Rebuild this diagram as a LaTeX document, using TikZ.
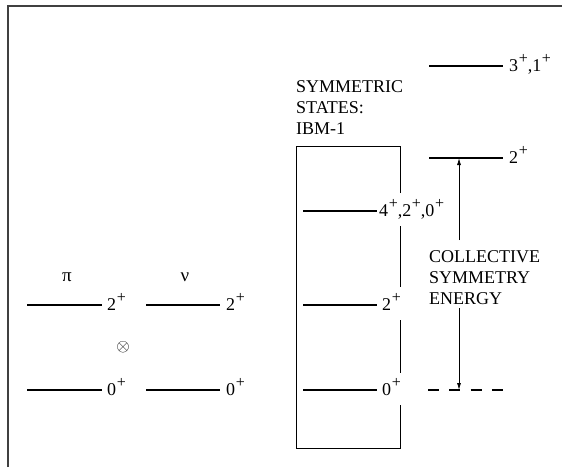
\documentclass[tikz,border=0pt]{standalone}
\usepackage{fontspec}
\setmainfont{Liberation Serif}
\usetikzlibrary{arrows.meta}
\newcommand\spl{\hspace{0.6pt}\raisebox{8pt}{\fontsize{16}{16}\selectfont +}}
\begin{document}
\begin{tikzpicture}[x=1pt,y=-1pt,
  lvl/.style={line width=1.9pt},
  thin lvl/.style={line width=1.2pt},
  lbl/.style={anchor=base west,inner sep=0pt,font=\fontsize{18}{21}\selectfont},
  txt/.style={anchor=base west,inner sep=0pt,align=left,font=\fontsize{18}{21}\selectfont},
  sym/.style={inner sep=0pt,font=\fontsize{19}{21}\selectfont},
  frame/.style={line width=1.4pt,draw=black!75},
  boxl/.style={line width=0.9pt},
  arr/.style={line width=0.8pt,-{Latex[length=7pt,width=4pt]}},
  dashlvl/.style={line width=1.9pt,dash pattern=on 11pt off 10.3pt}]
\useasboundingbox (0,0) rectangle (562,467);
% outer frame
\draw[frame] (8,467) -- (8,6) -- (562,6);
% pi and nu
\node[sym] (pi) at (67,277) {π};
\node[sym] (nu) at (185,277) {ν};
\node[sym] (ot) at (123,347) {$\otimes$};
% left levels
\coordinate (p2a) at (27,305); \coordinate (p2b) at (102,305);
\draw[lvl] (p2a) -- (p2b);
\node[lbl] (p2l) at (107,310) {2\spl};
\coordinate (n2a) at (146,305); \coordinate (n2b) at (220,305);
\draw[lvl] (n2a) -- (n2b);
\node[lbl] (n2l) at (226,310) {2\spl};
\coordinate (p0a) at (27,390); \coordinate (p0b) at (102,390);
\draw[lvl] (p0a) -- (p0b);
\node[lbl] (p0l) at (107,395) {0\spl};
\coordinate (n0a) at (146,390); \coordinate (n0b) at (220,390);
\draw[lvl] (n0a) -- (n0b);
\node[lbl] (n0l) at (226,395) {0\spl};
% symmetric states box
\node[txt] (symtxt) at (296,134) {SYMMETRIC\\STATES:\\IBM-1};
\draw[boxl] (400,193) -- (400,146) -- (296,146) -- (296,448) -- (400,448) -- (400,405);
\draw[boxl] (400,226) -- (400,287);
\draw[boxl] (400,320) -- (400,373);
\coordinate (b4a) at (303,211); \coordinate (b4b) at (377,211);
\draw[lvl] (b4a) -- (b4b);
\node[lbl] (b4l) at (379,216) {4\spl,2\spl,0\spl};
\coordinate (b2a) at (303,305); \coordinate (b2b) at (377,305);
\draw[lvl] (b2a) -- (b2b);
\node[lbl] (b2l) at (382,310) {2\spl};
\coordinate (b0a) at (303,390); \coordinate (b0b) at (377,390);
\draw[lvl] (b0a) -- (b0b);
\node[lbl] (b0l) at (382,395) {0\spl};
% right levels
\coordinate (r3a) at (429,66); \coordinate (r3b) at (503,66);
\draw[lvl] (r3a) -- (r3b);
\node[lbl] (r3l) at (509,71) {3\spl,1\spl};
\coordinate (r2a) at (429,158); \coordinate (r2b) at (503,158);
\coordinate (r2m) at (459,158);
\draw[thin lvl] (r2a) -- (r2b);
\node[lbl] (r2l) at (509,163) {2\spl};
\coordinate (r0a) at (428,390); \coordinate (r0b) at (503,390);
\coordinate (r0m) at (459,390);
\draw[dashlvl] (r0a) -- (r0b);
% collective symmetry energy
\node[txt] (coll) at (429,304) {COLLECTIVE\\SYMMETRY\\ENERGY};
\coordinate (upst) at (459,240);
\coordinate (dnst) at (459,308);
\draw[arr] (upst) -- (r2m);
\draw[arr] (dnst) -- (r0m);
\end{tikzpicture}
\end{document}
